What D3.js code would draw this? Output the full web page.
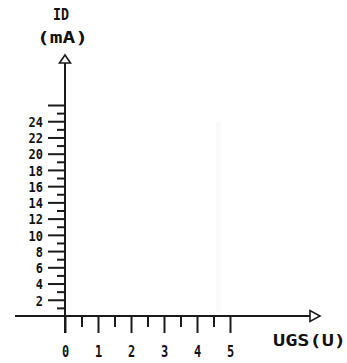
<!DOCTYPE html>
<html>
<head>
<meta charset="utf-8">
<script src="https://cdn.jsdelivr.net/npm/d3@7"></script>
<style>
body { margin: 0; background: #fff; }
svg { display: block; }
text { font-family: "DejaVu Sans Mono", monospace; font-weight: bold; fill: #111; }
</style>
</head>
<body>
<div class="canvas"></div>
<script>
// tick values
var xMajor = [0, 1, 2, 3, 4, 5];
var xMinor = [0.5, 1.5, 2.5, 3.5, 4.5];
var yMajor = [2, 4, 6, 8, 10, 12, 14, 16, 18, 20, 22, 24, 26];
var yMinor = [1, 3, 5, 7, 9, 11, 13, 15, 17, 19, 21, 23, 25];
var yLabels = [2, 4, 6, 8, 10, 12, 14, 16, 18, 20, 22, 24];

var fig_width = 347;
var fig_height = 363;
var svg = d3.select("body div.canvas").append("svg")
	.attr("width", fig_width)
	.attr("height", fig_height);

var x = d3.scaleLinear().domain([0, 5]).range([65, 230]);
var y = d3.scaleLinear().domain([0, 26]).range([316, 105]);
var ink = "#1a1a1a";

// faint scan line in the original
svg.append("rect")
	.attr("x", 216).attr("y", 122).attr("width", 5).attr("height", 190)
	.attr("fill", "#fafafa");

// y axis minor ticks
var gyMinor = svg.append("g").attr("transform", "translate(" + x(0) + ",0)")
	.call(d3.axisLeft(y).tickValues(yMinor).tickSize(8).tickSizeOuter(0).tickFormat(""));
// y axis major ticks
var gy = svg.append("g").attr("transform", "translate(" + x(0) + ",0)")
	.call(d3.axisLeft(y).tickValues(yMajor).tickSize(17).tickSizeOuter(0).tickPadding(5)
		.tickFormat(function(d) { return yLabels.indexOf(d) >= 0 ? d : ""; }));

// x axis ticks
var gxMinor = svg.append("g").attr("transform", "translate(0," + y(0) + ")")
	.call(d3.axisBottom(x).tickValues(xMinor).tickSize(11).tickSizeOuter(0).tickFormat(""));
var gx = svg.append("g").attr("transform", "translate(0," + y(0) + ")")
	.call(d3.axisBottom(x).tickValues(xMajor).tickSize(17).tickSizeOuter(0).tickPadding(13)
		.tickFormat(d3.format("d")));

[gyMinor, gy, gxMinor, gx].forEach(function(g) {
	g.select(".domain").remove();
	g.selectAll("line").attr("stroke", ink).attr("stroke-width", 2);
	g.selectAll("text")
		.style("font-family", "'DejaVu Sans Mono', monospace")
		.style("font-weight", "bold")
		.attr("fill", ink)
		.attr("lengthAdjust", "spacingAndGlyphs")
		.attr("textLength", function() {
			var n = this.textContent.length;
			return n ? n * 7.2 : null;
		});
});
gy.selectAll("text").attr("dy", "0.36em").style("font-size", "14.5px");
gx.selectAll("text").attr("dy", "0.68em").style("font-size", "16px");

// axis lines
svg.append("line")
	.attr("x1", x(0)).attr("x2", x(0))
	.attr("y1", 63).attr("y2", y(0) + 17)
	.attr("stroke", ink).attr("stroke-width", 2);
svg.append("line")
	.attr("x1", 15).attr("x2", 310)
	.attr("y1", y(0)).attr("y2", y(0))
	.attr("stroke", ink).attr("stroke-width", 2);

// hollow arrow heads
svg.append("path")
	.attr("d", "M" + (x(0) - 5.5) + ",63L" + (x(0) + 5.5) + ",63L" + x(0) + ",55Z")
	.attr("fill", "#fff").attr("stroke", ink).attr("stroke-width", 1.6);
svg.append("path")
	.attr("d", "M310," + (y(0) - 5.5) + "L310," + (y(0) + 5.5) + "L320," + y(0) + "Z")
	.attr("fill", "#fff").attr("stroke", ink).attr("stroke-width", 1.6);

// axis titles
svg.append("text").text("ID")
	.attr("x", 61).attr("y", 20).attr("text-anchor", "middle")
	.attr("textLength", 16).attr("lengthAdjust", "spacingAndGlyphs")
	.style("font-size", "16px");
svg.append("text").text("(mA)")
	.attr("x", 37).attr("y", 43)
	.attr("textLength", 51).attr("lengthAdjust", "spacingAndGlyphs")
	.style("font-size", "16px");
svg.append("text").text("UGS(U)")
	.attr("x", 273).attr("y", 346)
	.attr("textLength", 73).attr("lengthAdjust", "spacingAndGlyphs")
	.style("font-size", "16px");
</script>
</body>
</html>
